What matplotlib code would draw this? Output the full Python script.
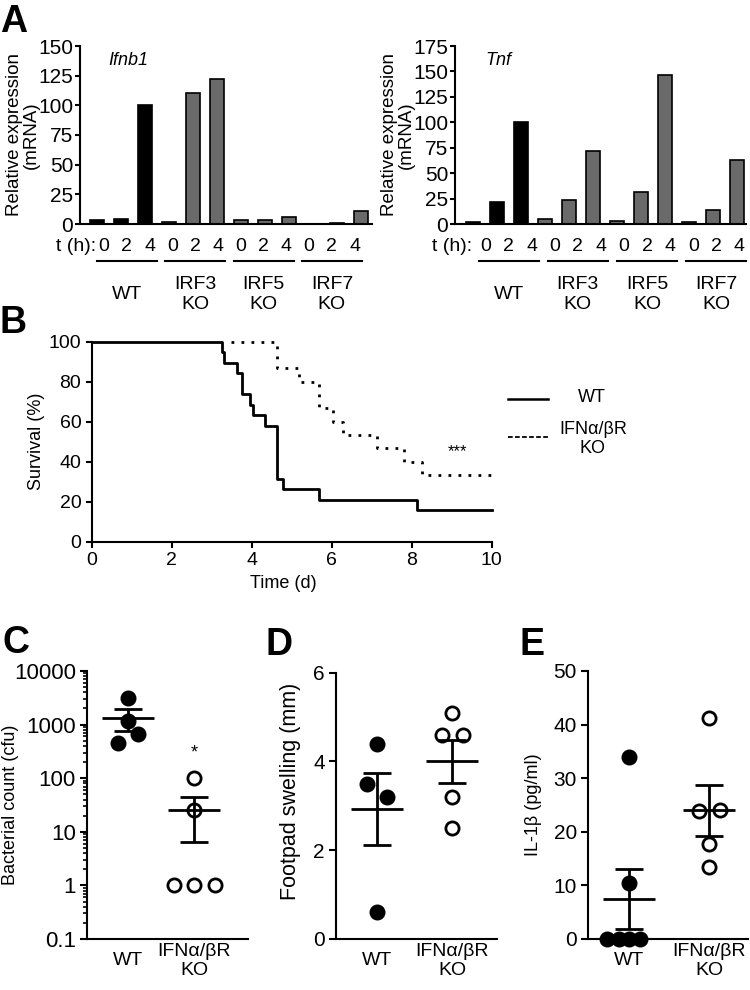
import matplotlib
matplotlib.use("Agg")
import matplotlib.pyplot as plt
import matplotlib.transforms as mtransforms
import numpy as np

plt.rcParams['font.family'] = ['Liberation Sans', 'DejaVu Sans']
plt.rcParams['axes.linewidth'] = 1.5
plt.rcParams['xtick.major.width'] = 1.5
plt.rcParams['ytick.major.width'] = 1.5
plt.rcParams['ytick.minor.width'] = 1.2

# ---- panel A: qPCR bars ----
strains = ['WT', 'IRF3\nKO', 'IRF5\nKO', 'IRF7\nKO']
hours = ['0', '2', '4']
ifnb1 = [3, 4, 100, 1.5, 110, 122, 3, 3, 6, 0, 0.5, 11]
tnf = [1.5, 22, 100, 5, 24, 72, 3, 31, 146, 2, 14, 63]

# ---- panel B: survival ----
wt_days = [0, 3.25, 3.31, 3.64, 3.75, 3.96, 4.02, 4.33, 4.64, 4.79, 5.67, 8.14, 10]
wt_surv = [100, 94.7, 89.5, 84.2, 73.7, 68.4, 63.2, 57.9, 31.6, 26.3, 21.1, 15.8, 15.8]
ko_days = [3.48, 4.64, 5.17, 5.67, 6.04, 6.28, 7.12, 7.81, 8.27, 10]
ko_surv = [100, 86.7, 80, 66.7, 60, 53.3, 46.7, 40, 33.3, 33.3]

# ---- panels C-E: individual mice ----
cfu_wt = [3100, 1150, 680, 460]
cfu_ko = [100, 25, 1, 1, 1]
swelling_wt = [4.4, 3.5, 3.2, 0.6]
swelling_ko = [5.1, 4.6, 4.6, 3.2, 2.5]
il1b_wt = [34, 10.5, 0, 0, 0, 0]
il1b_ko = [41.2, 23.8, 24.1, 17.7, 13.4]

W, H = 750, 990
fig = plt.figure(figsize=(7.5, 9.9), dpi=100)


def rect(x0, y_top, x1, y_bot):
    return [x0 / W, 1 - y_bot / H, (x1 - x0) / W, (y_bot - y_top) / H]


def bar_panel(r, values, ymax, gene, xlim, lab0, labstep, gene_x):
    ax = fig.add_axes(r)
    x = np.arange(len(values))
    colors = ['black'] * 3 + ['#6a6a6a'] * 9
    ax.bar(x, values, width=0.55, color=colors, edgecolor='black', linewidth=1.2)
    ax.set_xlim(*xlim)
    ax.set_ylim(0, ymax)
    ax.set_yticks(np.arange(0, ymax + 1, 25))
    ax.set_xticks([])
    ax.spines[['top', 'right']].set_visible(False)
    ax.tick_params(axis='y', length=3.5, pad=1.5, labelsize=15)
    ax.set_ylabel('Relative expression\n(mRNA)', fontsize=13.5, linespacing=1.0)
    ax.yaxis.set_label_coords(-0.137, 0.5)
    ax.text(gene_x, 0.893, gene, transform=ax.transAxes, fontsize=13, style='italic', va='baseline')
    tr = mtransforms.blended_transform_factory(ax.transData, ax.transAxes)
    ax.text(-0.02, -0.129, 't (h):', transform=tr, ha='right', va='center', fontsize=14)
    for i in range(len(values)):
        ax.text(lab0 + labstep * i, -0.129, hours[i % 3], transform=tr, ha='center', va='center', fontsize=14)
    for g, name in enumerate(strains):
        mid = lab0 + labstep * (3 * g + 1)
        ax.plot([mid - 1.25, mid + 1.25], [-0.208, -0.208], transform=tr, color='black', lw=1.5, clip_on=False)
        ax.text(mid, -0.395, name, transform=tr, ha='center', va='center', fontsize=14, linespacing=1.2)
    return ax


bar_panel(rect(80, 46, 372, 224), ifnb1, 150, 'Ifnb1', (-0.71, 11.46), 0.29, 0.95, 0.096)
bar_panel(rect(455, 46, 746, 224), tnf, 175, 'Tnf', (-0.75, 11.375), 0.52, 0.962, 0.103)

# ---- B ----
axb = fig.add_axes(rect(91.7, 341.7, 491.7, 541.7))
axb.step(wt_days, wt_surv, where='post', color='black', lw=2.0, clip_on=False, zorder=3)
axb.step(ko_days, ko_surv, where='post', color='black', lw=2.0, linestyle=(0, (1.0, 2.6)), clip_on=False)
axb.set_xlim(0, 10)
axb.set_ylim(0, 100)
axb.set_xticks(range(0, 11, 2))
axb.set_yticks(range(0, 101, 20))
axb.spines[['top', 'right']].set_visible(False)
axb.tick_params(length=4.5, pad=3, labelsize=14)
axb.set_ylabel('Survival (%)', fontsize=13)
axb.yaxis.set_label_coords(-0.117, 0.5)
axb.set_xlabel('Time (d)', fontsize=13)
axb.xaxis.set_label_coords(0.48, -0.165)
axb.text(9.15, 45, '***', ha='center', va='center', fontsize=12)
axb.plot([1.04, 1.14], [0.712, 0.712], transform=axb.transAxes, color='black', lw=1.8, clip_on=False)
axb.plot([1.04, 1.14], [0.522, 0.522], transform=axb.transAxes, color='black', lw=1.3,
         linestyle=(0, (2.6, 1.3)), clip_on=False)
axb.text(1.25, 0.722, 'WT', transform=axb.transAxes, ha='center', va='center', fontsize=13)
axb.text(1.253, 0.5135, 'IFNα/βR\nKO', transform=axb.transAxes, ha='center', va='center',
         fontsize=13, linespacing=1.2)


# ---- C, D, E ----
def dot_panel(r, wt, ko, wt_dx, ko_dx, ko_x, ylabel, ylab_x, ylab_y, ylab_size, tick_size):
    ax = fig.add_axes(r)
    for xc, vals, dx, filled in [(0, wt, wt_dx, True), (ko_x, ko, ko_dx, False)]:
        vals = np.array(vals, float)
        m = vals.mean()
        s = vals.std(ddof=1) / np.sqrt(len(vals))
        ax.hlines(m, xc - 0.35, xc + 0.35, color='black', lw=2.0, zorder=2)
        ax.hlines([m - s, m + s], xc - 0.19, xc + 0.19, color='black', lw=2.0, zorder=2)
        ax.vlines(xc, m - s, m + s, color='black', lw=2.0, zorder=2)
        ax.plot(xc + np.array(dx), vals, 'o', ms=9.5, mfc='black' if filled else 'none',
                mec='black', mew=2.0, clip_on=False, zorder=3, linestyle='none')
    ax.set_xlim(-0.55, 1.6)
    ax.set_xticks([])
    ax.spines[['top', 'right']].set_visible(False)
    ax.tick_params(axis='y', which='major', length=5, pad=3, labelsize=tick_size)
    ax.set_ylabel(ylabel, fontsize=ylab_size)
    ax.yaxis.set_label_coords(ylab_x, ylab_y)
    tr = mtransforms.blended_transform_factory(ax.transData, ax.transAxes)
    ax.text(0, -0.082, 'WT', transform=tr, ha='center', va='center', fontsize=14)
    ax.text(ko_x, -0.082, 'IFNα/βR\nKO', transform=tr, ha='center', va='center', fontsize=14,
            linespacing=1.15)
    return ax


axc = dot_panel(rect(87, 671, 248, 939), cfu_wt, cfu_ko, [0, 0, 0.13, -0.13],
                [0, 0, -0.27, 0, 0.28], 0.88, 'Bacterial count (cfu)', -0.42, 0.5, 13, 16)
axc.set_yscale('log')
axc.set_ylim(0.1, 10000)
axc.set_yticks([0.1, 1, 10, 100, 1000, 10000])
axc.set_yticklabels(['0.1', '1', '10', '100', '1000', '10000'])
axc.tick_params(axis='y', which='minor', length=3)
axc.text(0.88, 300, '*', ha='center', va='center', fontsize=13)

axd = dot_panel(rect(336, 672.7, 497, 939), swelling_wt, swelling_ko, [0, -0.13, 0.13, 0],
                [0, -0.13, 0.15, 0, 0], 1.0, 'Footpad swelling (mm)', -0.22, 0.554, 15.5, 15)
axd.set_ylim(0, 6)
axd.set_yticks([0, 2, 4, 6])

axe = dot_panel(rect(588, 671, 748, 939), il1b_wt, il1b_ko, [0, 0, -0.29, -0.14, 0, 0.15],
                [0, -0.14, 0.15, 0, 0], 1.08, 'IL-1β (pg/ml)', -0.29, 0.5, 13, 15)
axe.set_ylim(0, 50)
axe.set_yticks(range(0, 51, 10))

# panel letters
for letter, x, y in [('A', 0, 32), ('B', 0, 333), ('C', 3, 653), ('D', 265, 655), ('E', 519, 655)]:
    fig.text(x / W, 1 - y / H, letter, fontsize=27, fontweight='bold', va='baseline', ha='left')

fig.savefig('out.png', dpi=100)
